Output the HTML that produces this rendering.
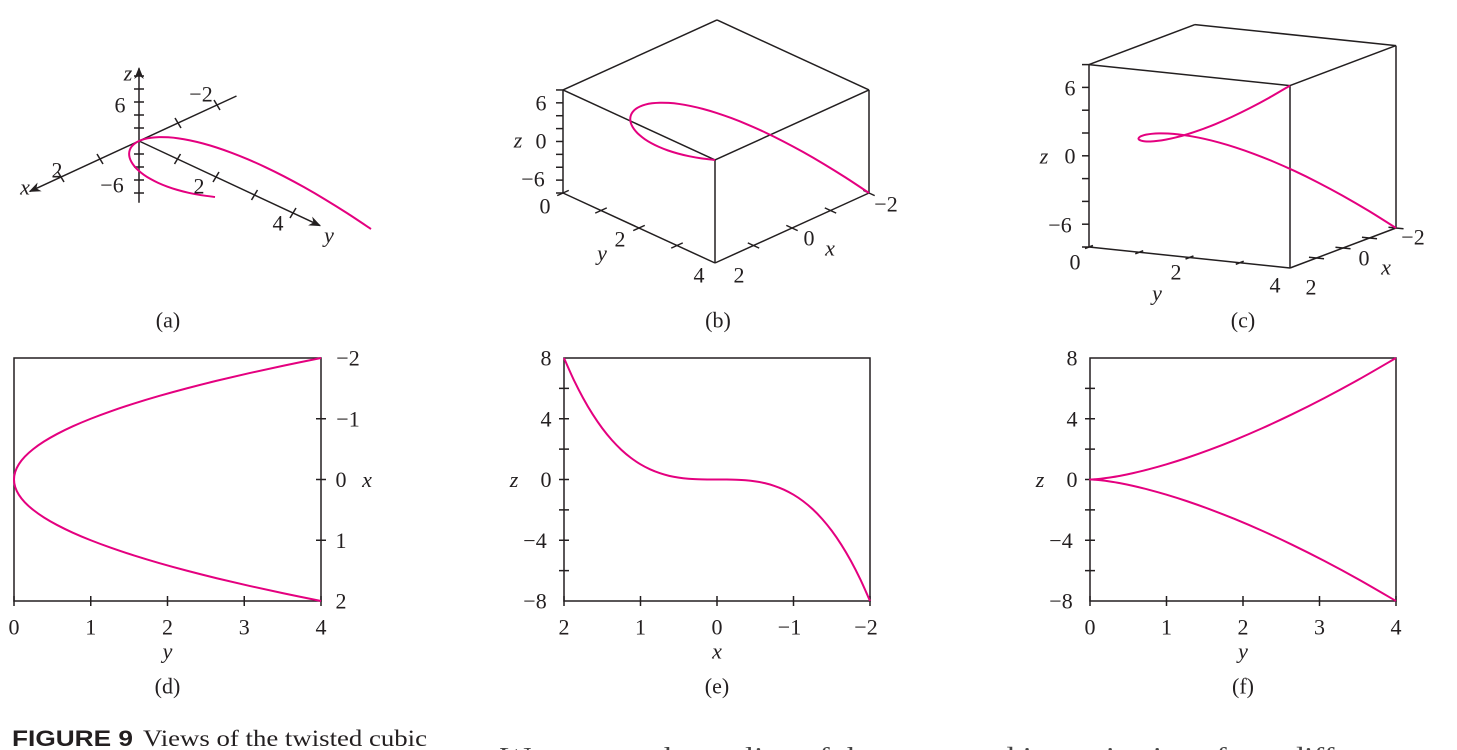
<!DOCTYPE html>
<html><head><meta charset="utf-8">
<style>
html,body{margin:0;padding:0;background:#fff;width:1457px;height:750px;overflow:hidden}
svg{display:block}
text{font-family:"Liberation Serif",serif;font-size:22px;fill:#231f20}
.it{font-style:italic}
</style></head>
<body>
<svg id="fig" width="1457" height="750" viewBox="0 0 1457 750" xmlns="http://www.w3.org/2000/svg">
<defs><marker id="arr" viewBox="0 0 10 10" refX="9" refY="5" markerWidth="12" markerHeight="12" markerUnits="userSpaceOnUse" orient="auto"><path d="M0,1 L10,5 L0,9 L3,5 z" fill="#231f20"/></marker></defs>
<g id="layer"></g>
<text x="12" y="746" style="font-family:'Liberation Sans',sans-serif;font-weight:bold;font-size:22px;fill:#231f20" textLength="121" lengthAdjust="spacingAndGlyphs">FIGURE 9</text>
<text x="143" y="746" style="font-size:23px" textLength="284" lengthAdjust="spacingAndGlyphs">Views of the twisted cubic</text>
<text x="500" y="764" style="font-size:24px;fill:#444" textLength="900" lengthAdjust="spacingAndGlyphs">We can see the outline of the curve and its projections from different</text>
</svg>
<script>
// parameter samples of the twisted cubic r(t) = (t, t^2, t^3)
const xVals=[-2,-1.875,-1.75,-1.625,-1.5,-1.375,-1.25,-1.125,-1,-0.875,-0.75,-0.625,-0.5,-0.375,-0.25,-0.125,0,0.125,0.25,0.375,0.5,0.625,0.75,0.875,1,1.125,1.25,1.375,1.5,1.625,1.75,1.875,2];
const yVals=[4,3.515625,3.0625,2.640625,2.25,1.890625,1.5625,1.265625,1,0.765625,0.5625,0.390625,0.25,0.140625,0.0625,0.015625,0,0.015625,0.0625,0.140625,0.25,0.390625,0.5625,0.765625,1,1.265625,1.5625,1.890625,2.25,2.640625,3.0625,3.515625,4];
const zVals=[-8,-6.591797,-5.359375,-4.291016,-3.375,-2.599609,-1.953125,-1.423828,-1,-0.669922,-0.421875,-0.240234,-0.125,-0.052734,-0.015625,-0.001953,0,0.001953,0.015625,0.052734,0.125,0.240234,0.421875,0.669922,1,1.423828,1.953125,2.599609,3.375,4.291016,5.359375,6.591797,8];
const yTicks2D=[0,1,2,3,4];
const xTicks2D=[-2,-1,0,1,2];
const zTicks2D=[-8,-4,0,4,8];

const NS="http://www.w3.org/2000/svg";
const layer=document.getElementById('layer');
const INK="#231f20", PINK="#e4007f";
function mk(tag,attrs,name){const e=document.createElementNS(NS,tag);for(const k in attrs)e.setAttribute(k,attrs[k]);


layer.appendChild(e);return e;}
function line(x1,y1,x2,y2,name,extra){const a={x1,y1,x2,y2,stroke:INK,'stroke-width':1.5};if(extra)Object.assign(a,extra);return mk('line',a,name);}
function txt(x,y,s,name,cls){const t=mk('text',{x,y,'text-anchor':'middle','dominant-baseline':'central'},name);if(cls)t.setAttribute('class',cls);t.textContent=s;return t;}
function smooth(pts){let d="M"+pts[0][0].toFixed(2)+","+pts[0][1].toFixed(2);
for(let i=0;i<pts.length-1;i++){const p0=pts[Math.max(0,i-1)],p1=pts[i],p2=pts[i+1],p3=pts[Math.min(pts.length-1,i+2)];
const c1=[p1[0]+(p2[0]-p0[0])/6,p1[1]+(p2[1]-p0[1])/6],c2=[p2[0]-(p3[0]-p1[0])/6,p2[1]-(p3[1]-p1[1])/6];
d+=" C"+c1[0].toFixed(2)+","+c1[1].toFixed(2)+" "+c2[0].toFixed(2)+","+c2[1].toFixed(2)+" "+p2[0].toFixed(2)+","+p2[1].toFixed(2);}
return d;}
function curve(pts,name){return mk('path',{d:smooth(pts),fill:'none',stroke:PINK,'stroke-width':2},name);}
function proj(o,ex,ey,ez,x0,y0,z0){return (x,y,z)=>[o[0]+(x-x0)*ex[0]+(y-y0)*ey[0]+(z-z0)*ez[0], o[1]+(x-x0)*ex[1]+(y-y0)*ey[1]+(z-z0)*ez[1]];}

// ---- panel (a) axes
{const P=proj([139,141],[-39,18],[38.5,18],[0,-6.5],0,0,0);
 let a=P(0,0,11.2),b=P(0,0,-9.5);line(a[0],b[1],a[0],a[1],'a-z-axis',{'marker-end':'url(#arr)'});
 for(let z=-8;z<=10;z+=2){if(z===0)continue;const p=P(0,0,z);line(p[0]-5,p[1],p[0]+5,p[1],'a-z-tick');}
 a=P(-2.5,0,0);b=P(2.8,0,0);line(a[0],a[1],b[0],b[1],'a-x-axis',{'marker-end':'url(#arr)'});
 for(const x of [-2,-1,1,2]){const p=P(x,0,0);line(p[0]-3,p[1]-5,p[0]+3,p[1]+5,'a-x-tick');}
 a=P(0,0,0);b=P(0,4.7,0);line(a[0],a[1],b[0],b[1],'a-y-axis',{'marker-end':'url(#arr)'});
 for(const y of [1,2,3,4]){const p=P(0,y,0);line(p[0]+3,p[1]-5,p[0]-3,p[1]+5,'a-y-tick');}
 curve(xVals.map((x,i)=>P(x,yVals[i],zVals[i])),'a-curve');
 txt(128,73,'z','a-z-label','it');txt(120,105,'6','a-z-tick-6');txt(201,94,'−2','a-x-tick-neg2');
 txt(57,170,'2','a-x-tick-2');txt(25,187,'x','a-x-label','it');txt(112,185,'−6','a-z-tick-neg6');
 txt(199,186,'2','a-y-tick-2');txt(278,223,'4','a-y-tick-4');txt(329,235,'y','a-y-label','it');
 txt(168,320,'(a)','caption-a');}

// ---- 3D box panels
function box(P,pre,zLab,yLab,xLab,cap){
 const c=(x,y,z)=>P(x,y,z);
 const seg=(p,q,n)=>{const A=c(...p),B=c(...q);line(A[0],A[1],B[0],B[1],n);};
 seg([2,0,-8],[2,4,-8],pre+'-y-edge');seg([2,4,-8],[-2,4,-8],pre+'-x-edge');
 seg([2,0,-8],[2,0,8],pre+'-z-edge');seg([2,4,-8],[2,4,8],pre+'-front-edge');seg([-2,4,-8],[-2,4,8],pre+'-right-edge');
 seg([2,0,8],[2,4,8],pre+'-top-edge');seg([2,4,8],[-2,4,8],pre+'-top-edge');seg([-2,4,8],[-2,0,8],pre+'-top-edge');seg([-2,0,8],[2,0,8],pre+'-top-edge');
 for(let z=-8;z<=8;z+=2){const p=c(2,0,z);line(p[0]-7,p[1],p[0],p[1],pre+'-z-tick');}
 for(const y of [0,1,2,3]){const q=c(1.85,y,-8),r=c(2.15,y,-8);line(q[0],q[1],r[0],r[1],pre+'-y-tick');}
 for(const x of [1,0,-1,-2]){const q=c(x,3.85,-8),r=c(x,4.15,-8);line(q[0],q[1],r[0],r[1],pre+'-x-tick');}
 curve(xVals.map((x,i)=>c(x,yVals[i],zVals[i])),pre+'-curve');
 zLab.forEach(l=>txt(l[0],l[1],l[2],pre+'-z-label',l[3]));
 yLab.forEach(l=>txt(l[0],l[1],l[2],pre+'-y-label',l[3]));
 xLab.forEach(l=>txt(l[0],l[1],l[2],pre+'-x-label',l[3]));
 txt(cap[0],cap[1],cap[2],'caption-'+pre);
}
box(proj([563,193],[-38.5,17.5],[38,17.5],[0,-6.44],2,0,-8),'b',
 [[541,103,'6'],[541,141,'0'],[533,179,'−6'],[518,140,'z','it']],
 [[545,206,'0'],[620,239,'2'],[699,275,'4'],[602,253,'y','it']],
 [[739,275,'2'],[809,238,'0'],[886,204,'−2'],[830,248,'x','it']],[718,320,'(b)']);
box(proj([1089,247],[-26.5,10],[50.25,5.25],[0,-11.4],2,0,-8),'c',
 [[1070,88,'6'],[1070,156,'0'],[1060,225,'−6'],[1044,156,'z','it']],
 [[1075,262,'0'],[1176,272,'2'],[1275,285,'4'],[1157,293,'y','it']],
 [[1311,287,'2'],[1364,258,'0'],[1413,237,'−2'],[1386,267,'x','it']],[1243,320,'(c)']);

// ---- 2D panels
function panel2(pre,L,R,T,B,hx0,hx1,vy0,vy1,hVals,vVals,hTicks,vTicks,vSide,hName,vName,cap,vMinor){
 const sx=v=>L+(v-hx0)/(hx1-hx0)*(R-L), sy=v=>T+(v-vy0)/(vy1-vy0)*(B-T);
 mk('rect',{x:L,y:T,width:R-L,height:B-T,fill:'none',stroke:INK,'stroke-width':1.5},pre+'-frame');
 hTicks.forEach(v=>{line(sx(v),B-5,sx(v),B+5,pre+'-h-tick');txt(sx(v)-(v<0?4:0),B+26,String(v).replace('-','−'),pre+'-h-tick-label');});
 const vx=vSide==='right'?R:L;
 vMinor.forEach(v=>line(vx-5,sy(v),vx+5,sy(v),pre+'-v-tick'));
 vTicks.forEach(v=>{const s=String(v).replace('-','−');txt(vSide==='right'?vx+(s.length>1?27:20):vx-(s.length>1?29:18),sy(v),s,pre+'-v-tick-label');});
 txt((L+R)/2,B+50,hName,pre+'-h-axis-title','it');
 if(vSide==='right')txt(R+46,sy((vy0+vy1)/2),vName,pre+'-v-axis-title','it');else txt(L-50,sy((vy0+vy1)/2),vName,pre+'-v-axis-title','it');
 curve(hVals.map((h,i)=>[sx(h),sy(vVals[i])]),pre+'-curve');
 txt((L+R)/2,B+85,cap,'caption-'+pre);
}
panel2('d',14,321,358,601,0,4,-2,2,yVals,xVals,yTicks2D,xTicks2D,'right','y','x','(d)',[-1,0,1]);
panel2('e',564,870,358,601,2,-2,8,-8,xVals,zVals,[2,1,0,-1,-2],[8,4,0,-4,-8],'left','x','z','(e)',[-6,-4,-2,0,2,4,6]);
panel2('f',1090,1396,358,601,0,4,8,-8,yVals,zVals,yTicks2D,zTicks2D,'left','y','z','(f)',[-6,-4,-2,0,2,4,6]);
</script>
</body></html>
